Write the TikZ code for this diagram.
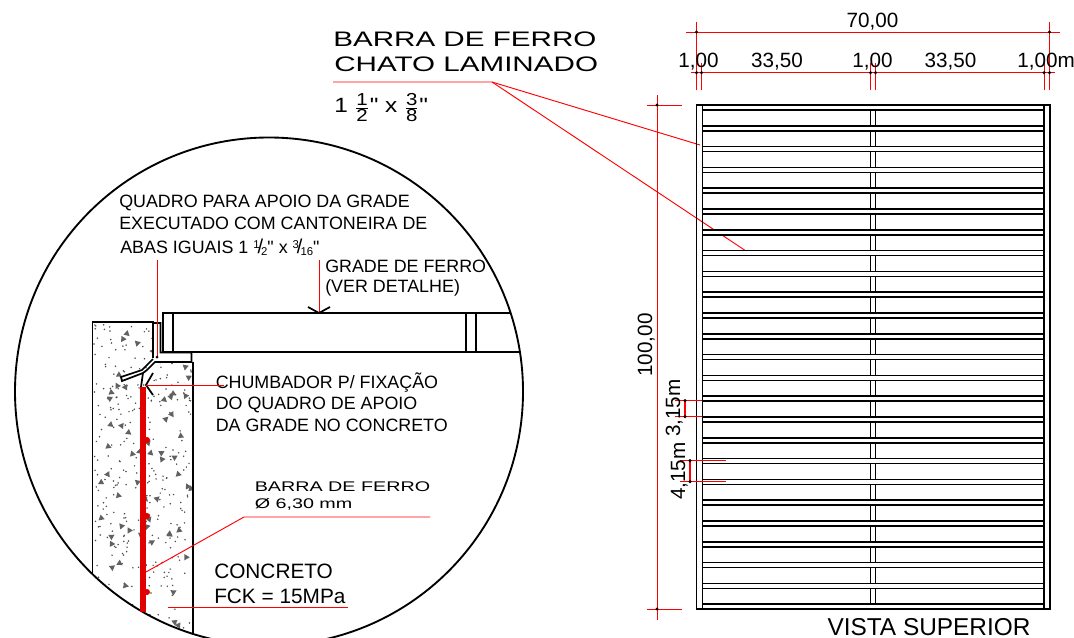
\documentclass[tikz,border=0pt]{standalone}
\usepackage{fontspec}
\setmainfont[Ligatures=TeXOff]{Liberation Sans}
\newcommand{\largo}[1]{\scalebox{1.41}[1]{#1}}
\newcommand{\aspas}{\symbol{34}}
\newcommand{\tfrac}[2]{\ensuremath{\frac{\hbox{\fontsize{13}{13}\selectfont #1}}{\hbox{\fontsize{13}{13}\selectfont #2}}}}
\newcommand{\sfrac}[2]{\raisebox{3.5pt}{\fontsize{8.5}{9}\selectfont #1}\kern-1.5pt{\fontsize{15}{15}\selectfont/}\kern-1.5pt\raisebox{-2pt}{\fontsize{8.5}{9}\selectfont #2}}
\definecolor{vermelho}{RGB}{225,0,0}
\begin{document}
\begin{tikzpicture}[x=0.75pt,y=-0.75pt]
  \tikzstyle{rotulo}=[anchor=base west, inner sep=0pt, text=black, font=\fontsize{13.4}{15}\selectfont]
  \tikzstyle{cota}=[anchor=base, inner sep=0pt, text=black, font=\fontsize{15.5}{17}\selectfont]
  \tikzstyle{linha}=[red, line width=0.7pt]
  \tikzstyle{peca}=[black, line width=1.3pt]
  \tikzstyle{barra}=[peca, fill=white, line width=1.2pt]
  \useasboundingbox (0,0) rectangle (1074,638);
  \pgfmathsetseed{11}

  % detalhe: concreto
  \begin{scope}
    \clip (269,391.5) circle [radius=254];
    \begin{scope}
      \clip (92.5,322) -- (153,322) -- (153,362) -- (193,362) -- (193,640) -- (92.5,640) -- cycle;
      \foreach \i in {1,...,340} {
        \pgfmathsetmacro{\px}{94+rnd*98}
        \pgfmathsetmacro{\py}{324+rnd*314}
        \fill[black!70] (\px,\py) circle [radius=0.85];
      }
      \foreach \i in {1,...,65} {
        \pgfmathsetmacro{\px}{94+rnd*98}
        \pgfmathsetmacro{\py}{324+rnd*314}
        \pgfmathsetmacro{\ang}{rnd*120}
        \fill[black!62] (\px,\py) -- ++(\ang:6.2) -- ++(\ang+120:6.2) -- cycle;
      }
    \end{scope}
    \draw[peca] (92.5,640) -- (92.5,322) -- (153,322) -- (153,358);
    \draw[peca] (193,640) -- (193,362);
    % grade em corte
    \draw[peca] (520,313) -- (163,313) -- (163,352) -- (530,352);
    \foreach \x in {173,466,476} {
      \draw[peca] (\x,313) -- (\x,352);
    }
  \end{scope}
  \draw[peca, line width=1.4pt] (269,391.5) circle [radius=254];

  % cantoneira e chumbador
  \draw[peca] (153,323) -- (160.5,323) -- (160.5,352.5) -- (191.5,352.5) -- (191.5,362) -- (155,362) -- (147,370) -- (143,373) -- (122,381) -- (121,377) -- (142,370) -- (153,359);
  \draw[peca] (143,373) -- (141,387);
  \draw[peca] (153,373) -- (146,385) -- (153,395);

  % barra de ferro
  \fill[vermelho] (140,387) rectangle (146,612);
  \foreach \y in {440,516,592} {
    \fill[vermelho] (147,\y) circle [radius=3];
  }

  % textos do detalhe
  \node[rotulo] (quadroA) at (119,208) {QUADRO PARA APOIO DA GRADE};
  \node[rotulo] (quadroB) at (119,229) {EXECUTADO COM CANTONEIRA DE};
  \node[rotulo] (quadroC) at (120,253) {ABAS IGUAIS 1 \sfrac{1}{2}\aspas{} x \sfrac{3}{16}\aspas};
  \node[rotulo] (gradeA) at (325,272) {GRADE DE FERRO};
  \node[rotulo] (gradeB) at (325,292) {(VER DETALHE)};
  \node[rotulo] (chumbA) at (215.5,388) {CHUMBADOR P/ FIXAÇÃO};
  \node[rotulo] (chumbB) at (215.5,409) {DO QUADRO DE APOIO};
  \node[rotulo] (chumbC) at (215.5,431) {DA GRADE NO CONCRETO};
  \node[rotulo, font=\fontsize{10.5}{12}\selectfont] (ferroA) at (254.5,491) {\largo{BARRA DE FERRO}};
  \node[rotulo, font=\fontsize{10.5}{12}\selectfont] (ferroB) at (254.5,508) {\largo{Ø 6,30 mm}};
  \node[rotulo, font=\fontsize{15.6}{17}\selectfont] (concA) at (214,578) {CONCRETO};
  \node[rotulo, font=\fontsize{15.6}{17}\selectfont] (concB) at (214,603) {FCK = 15MPa};

  % textos de cima
  \node[rotulo, font=\fontsize{15.75}{18}\selectfont] (barraA) at (333,46.5) {\largo{BARRA DE FERRO}};
  \node[rotulo, font=\fontsize{15.75}{18}\selectfont] (barraB) at (334,72) {\largo{CHATO LAMINADO}};
  \node[rotulo, font=\fontsize{15.5}{18}\selectfont] (barraC) at (334,113) {\scalebox{1.18}[1]{1 \tfrac{1}{2}\aspas{} x \tfrac{3}{8}\aspas}};

  % leaders
  \coordinate (l0) at (333,82);
  \coordinate (l1) at (492,82);
  \coordinate (l2) at (700,145);
  \coordinate (l3) at (749,253);
  \draw[linha] (l0) -- (l1) -- (l2);
  \draw[linha] (l1) -- (l3);
  \coordinate (q0) at (157,260);
  \coordinate (q1) at (157,357);
  \draw[linha] (q0) -- (q1);
  \fill[black] (q1) circle [radius=1.5];
  \coordinate (g0) at (319,260);
  \coordinate (g1) at (319,313);
  \draw[linha] (g0) -- (g1);
  \draw[peca] (308,307) -- (g1) -- (330,307);
  \coordinate (c0) at (146,385);
  \coordinate (c1) at (224,385);
  \draw[linha] (c0) -- (c1);
  \coordinate (f0) at (146,572);
  \coordinate (f1) at (244,517);
  \coordinate (f2) at (430,517);
  \draw[linha] (f0) -- (f1) -- (f2);
  \coordinate (k0) at (168,607);
  \coordinate (k1) at (348,607);
  \draw[linha] (k0) -- (k1);

  % vista superior
  \foreach \k in {0,...,24} {
    \pgfmathsetmacro{\yb}{105+20.8*\k}
    \ifnum\k=0\else
      \draw[peca, line width=1.2pt] (870.5,\yb-16) -- (870.5,\yb);
      \draw[peca, line width=1.2pt] (875.5,\yb-16) -- (875.5,\yb);
    \fi
    \draw[barra] (702.5,\yb) rectangle (1044,\yb+5);
  }
  \draw[peca, line width=1.2pt] (696.5,105) rectangle (1050,609);
  \draw[peca, line width=1.2pt] (702.5,105) -- (702.5,609) (1044,105) -- (1044,609);

  % cotas
  \draw[linha] (686,32) -- (1060,32);
  \draw[linha] (691,72.7) -- (1055,72.7);
  \foreach \x in {696.5,1049.5} {
    \draw[linha] (\x,22) -- (\x,90);
    \fill[black] (\x,32) circle [radius=1.7];
  }
  \foreach \x in {696.5,701.5,870.5,875.5,1044,1049.5} {
    \draw[linha] (\x,63) -- (\x,90);
    \fill[black] (\x,72.7) circle [radius=1.7];
  }
  \draw[linha] (657,95) -- (657,620);
  \foreach \y in {105,609} {
    \draw[linha] (647,\y) -- (682,\y);
    \fill[black] (657,\y) circle [radius=1.7];
  }
  \draw[linha] (675,400.6) -- (702,400.6) (675,416.7) -- (702,416.7);
  \draw[red, line width=1.1pt] (685,400.6) -- (685,416.7);
  \draw[linha] (680,460.6) -- (726,460.6) (680,481.7) -- (726,481.7);
  \draw[red, line width=1.1pt] (690,460.6) -- (690,481.7);
  \foreach \x/\y in {685/400.6,685/416.7,690/460.6,690/481.7} {
    \fill[black] (\x,\y) circle [radius=1.7];
  }
  \node[cota] (c70) at (872.5,28) {70,00};
  \node[cota] (c1a) at (698.5,68) {1,00};
  \node[cota] (c33a) at (777,68) {33,50};
  \node[cota] (c1b) at (872.5,68) {1,00};
  \node[cota] (c33b) at (950.5,68) {33,50};
  \node[cota] (c1c) at (1046,68) {1,00m};
  \node[cota, rotate=90] (c100) at (652,345) {100,00};
  \node[cota, rotate=90, anchor=base west] (c315) at (680,437) {3,15m};
  \node[cota, rotate=90, anchor=base west] (c415) at (685,500) {4,15m};
  \node[cota, font=\fontsize{18.3}{20}\selectfont] (vista) at (929,635) {VISTA SUPERIOR};
\end{tikzpicture}
\end{document}
